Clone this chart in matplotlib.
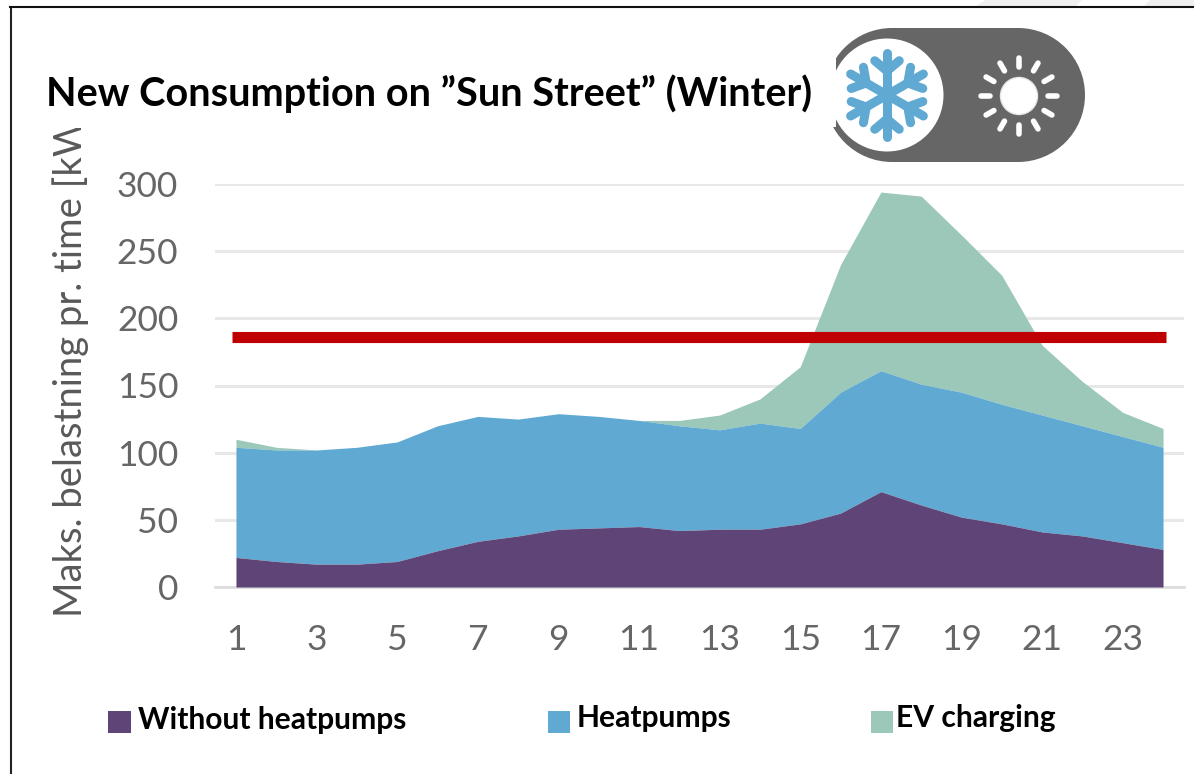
import numpy as np
import matplotlib
matplotlib.use("Agg")
import matplotlib.pyplot as plt
from matplotlib.patches import Circle, Rectangle, Polygon

hours = list(range(1, 25))
without_heatpumps = [22,19,17,17,19,27,34,38,43,44,45,42,43,43,47,55,71,61,52,47,41,38,33,28]
heat_top = [104,102,102,104,108,120,127,125,129,127,124,120,117,122,118,145,161,151,145,136,128,120,112,104]
ev_top = [110,104,102,104,108,120,127,125,129,127,124,124,128,140,164,240,294,291,262,232,180,153,130,118]
limit = 186
yticks = [0, 50, 100, 150, 200, 250, 300]
xticks = list(range(1, 24, 2))
title = "New Consumption on \u201dSun Street\u201d (Winter)"
ylabel = "Maks. belastning pr. time [kW"
labels = ["Without heatpumps", "Heatpumps", "EV charging"]
colors = ["#5f4577", "#5fa9d2", "#9cc8b9"]

W, H = 1194, 774
fig = plt.figure(figsize=(W/100, H/100), dpi=100, facecolor="white")

bg = fig.add_axes([0, 0, 1, 1], zorder=0)
bg.set_xlim(0, W); bg.set_ylim(H, 0); bg.axis("off")
bg.add_patch(Polygon([(985,0),(1082,0),(1075,7),(975,7)], fc="#efefef", ec="none"))
bg.add_patch(Polygon([(1150,0),(1194,0),(1194,7),(1143,7)], fc="#efefef", ec="none"))
bg.plot([10.5, 10.5], [774, 7], color="#222222", lw=1.5)
bg.plot([10, 1194], [7, 7], color="#111111", lw=1.5)

l, r, t, b = 215, 1184, 184, 587
ax = fig.add_axes([l/W, 1-b/H, (r-l)/W, (b-t)/H], zorder=2)
ax.patch.set_alpha(0)
ax.set_xlim(0.48, 24.52)
ax.set_ylim(0, 300)
base = np.array(without_heatpumps, float)
heat = np.array(heat_top, float)
ev = np.array(ev_top, float)
ax.grid(axis="y", color="#e8e8e8", lw=2.2, zorder=0)
ax.set_axisbelow(True)
ax.fill_between(hours, heat, ev, color=colors[2], lw=0, zorder=2, clip_on=False)
ax.fill_between(hours, base, heat, color=colors[1], lw=0, zorder=3, clip_on=False)
ax.fill_between(hours, 0, base, color=colors[0], lw=0, zorder=4)
ax.hlines(limit, 0.9, 24.08, color="#c00000", lw=8, zorder=5, capstyle="butt")
for s in ["top", "right", "left"]:
    ax.spines[s].set_visible(False)
ax.spines["bottom"].set_color("#dddddd")
ax.spines["bottom"].set_linewidth(2)
ax.set_xticks(xticks)
ax.set_yticks(yticks)
ax.tick_params(length=0, labelsize=25.5, labelcolor="#666666")
ax.tick_params(axis="x", pad=27)
ax.tick_params(axis="y", pad=26.5)
for lab in ax.get_xticklabels() + ax.get_yticklabels():
    lab.set_family("Lato")

ov = fig.add_axes([0, 0, 1, 1], zorder=3)
ov.set_xlim(0, W); ov.set_ylim(H, 0); ov.axis("off"); ov.patch.set_alpha(0)
ov.text(46, 94, title, fontsize=28.5, fontweight="bold", family="Lato", va="center", ha="left", color="black")
yl = ov.text(71, 617, ylabel, fontsize=27.5, family="Lato", rotation=90, va="bottom", ha="center", color="#595959")
yl.set_clip_path(Rectangle((0, 128), 200, 600, transform=ov.transData))
yl.set_clip_on(True)

ov.add_patch(Rectangle((892, 28), 126, 134, fc="#666666", ec="none"))
ov.add_patch(Circle((892, 95), 67, fc="#666666", ec="none"))
ov.add_patch(Circle((1018, 95), 67, fc="#666666", ec="none"))
ov.add_patch(Rectangle((800, 55), 36, 72, fc="white", ec="none"))
ov.add_patch(Circle((887, 95), 56.5, fc="white", ec="none"))
blue = colors[1]
for a in np.deg2rad(np.arange(0, 360, 60) + 90):
    c, s = np.cos(a), np.sin(a)
    ov.plot([887, 887+42*c], [95, 95-42*s], color=blue, lw=6.5, solid_capstyle="round")
    for sgn in (-1, 1):
        b2 = a + sgn*np.deg2rad(50)
        px, py = 887+24*c, 95-24*s
        ov.plot([px, px+16*np.cos(b2)], [py, py-16*np.sin(b2)], color=blue, lw=6.5, solid_capstyle="round")
ov.add_patch(Circle((1019, 96), 18.5, fc="white", ec="#e8e8e8", lw=1))
for a in np.deg2rad(np.arange(0, 360, 30)):
    c, s = np.cos(a), np.sin(a)
    ov.plot([1019+29*c, 1019+38*c], [96-29*s, 96-38*s], color="white", lw=4, solid_capstyle="round")

legend_pos = [(108, 711, 138, 720, 23), (548, 711, 577, 718, 22), (871, 711, 896, 718, 22)]
for (x0, y0, tx, ty, w), lab, col in zip(legend_pos, labels, colors):
    ov.add_patch(Rectangle((x0, y0), w, 22, fc=col, ec="none"))
    ov.text(tx, ty, lab, fontsize=21.6, fontweight="bold", family="Lato", va="center", ha="left", color="black")

fig.savefig("out.png", dpi=100)
